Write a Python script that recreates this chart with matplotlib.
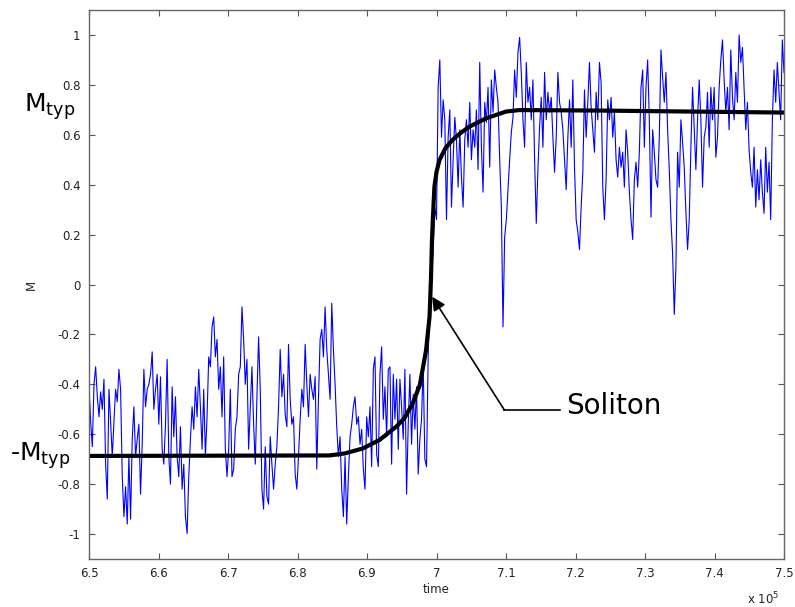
import numpy as np
import matplotlib
matplotlib.use("Agg")
import matplotlib.pyplot as plt

plt.rcParams['font.family'] = ['DejaVu Sans']
plt.rcParams['mathtext.fontset'] = 'dejavusans'

# ---------------- data ----------------
t_start, t_stop = 6.5, 7.5   # time in units of 1e5
magnetization = [
    # 6.50 - 6.70
    -0.41, -0.55, -0.65, -0.40, -0.33, -0.45, -0.53, -0.43, -0.50, -0.38,
    -0.72, -0.86, -0.42, -0.55, -0.69, -0.55, -0.42, -0.47, -0.34, -0.42,
    -0.77, -0.93, -0.81, -0.96, -0.69, -0.94, -0.62, -0.49, -0.69, -0.62,
    -0.56, -0.84, -0.64, -0.34, -0.49, -0.42, -0.40, -0.36, -0.27, -0.50,
    -0.42, -0.36, -0.56, -0.37, -0.66, -0.72, -0.56, -0.30, -0.69, -0.80,
    -0.41, -0.61, -0.45, -0.69, -0.77, -0.57, -0.82, -0.72, -0.93, -0.998,
    -0.77, -0.62, -0.49, -0.58, -0.41, -0.53, -0.34, -0.49, -0.66, -0.42,
    -0.69, -0.53, -0.29, -0.33, -0.17, -0.13, -0.29, -0.22, -0.42, -0.33,
    -0.53, -0.29, -0.66, -0.77,
    # 6.70 - 6.90
    -0.66, -0.42, -0.77, -0.74, -0.58, -0.53, -0.36, -0.33, -0.09, -0.22,
    -0.40, -0.30, -0.66, -0.49, -0.33, -0.56, -0.72, -0.45, -0.21, -0.42,
    -0.82, -0.90, -0.65, -0.85, -0.88, -0.61, -0.72, -0.82, -0.72, -0.65,
    -0.49, -0.26, -0.45, -0.36, -0.52, -0.57, -0.24, -0.46, -0.56, -0.53,
    -0.76, -0.82, -0.69, -0.54, -0.42, -0.49, -0.24, -0.40, -0.53, -0.36,
    -0.42, -0.46, -0.37, -0.74, -0.46, -0.22, -0.18, -0.29, -0.09, -0.26,
    -0.36, -0.46, -0.075, -0.26, -0.40, -0.57, -0.69, -0.61, -0.82, -0.93,
    -0.69, -0.96, -0.77, -0.61, -0.56, -0.49, -0.45, -0.56, -0.53, -0.64,
    -0.58, -0.74, -0.82, -0.53,
    # 6.90 - 7.10
    -0.61, -0.49, -0.73, -0.34, -0.29, -0.68, -0.73, -0.36, -0.25, -0.54,
    -0.41, -0.61, -0.34, -0.33, -0.72, -0.36, -0.54, -0.38, -0.66, -0.38,
    -0.49, -0.62, -0.34, -0.84, -0.56, -0.36, -0.64, -0.44, -0.58, -0.41,
    -0.76, -0.62, -0.54, -0.32, -0.70, -0.73, -0.28, -0.09, 0.03, 0.14,
    0.31, 0.26, 0.79, 0.90, 0.59, 0.74, 0.66, 0.26, 0.59, 0.70,
    0.31, 0.50, 0.67, 0.58, 0.39, 0.62, 0.43, 0.31, 0.58, 0.66,
    0.55, 0.73, 0.50, 0.62, 0.55, 0.70, 0.46, 0.89, 0.55, 0.37,
    0.73, 0.65, 0.79, 0.47, 0.82, 0.69, 0.86, 0.79, 0.73, 0.50,
    0.31, -0.17,
    # 7.10 - 7.30
    0.19, 0.26, 0.38, 0.50, 0.61, 0.67, 0.86, 0.75, 0.93, 0.99,
    0.85, 0.66, 0.55, 0.89, 0.73, 0.79, 0.66, 0.82, 0.50, 0.245,
    0.46, 0.63, 0.75, 0.55, 0.85, 0.66, 0.77, 0.69, 0.75, 0.59,
    0.45, 0.59, 0.85, 0.73, 0.69, 0.62, 0.50, 0.38, 0.59, 0.74,
    0.55, 0.82, 0.47, 0.26, 0.21, 0.14, 0.31, 0.45, 0.78, 0.59,
    0.73, 0.89, 0.71, 0.62, 0.53, 0.77, 0.66, 0.89, 0.81, 0.39,
    0.26, 0.42, 0.74, 0.66, 0.75, 0.59, 0.69, 0.50, 0.43, 0.55,
    0.47, 0.53, 0.39, 0.62, 0.53, 0.37, 0.26, 0.18, 0.42, 0.49,
    0.39, 0.53, 0.79, 0.86,
    # 7.30 - 7.50
    0.55, 0.79, 0.90, 0.66, 0.27, 0.62, 0.53, 0.42, 0.39, 0.59,
    0.94, 0.83, 0.73, 0.85, 0.62, 0.46, 0.26, 0.125, -0.12, 0.07,
    0.53, 0.39, 0.66, 0.57, 0.47, 0.29, 0.14, 0.26, 0.55, 0.79,
    0.63, 0.46, 0.66, 0.82, 0.66, 0.39, 0.59, 0.63, 0.77, 0.55,
    0.79, 0.66, 0.79, 0.51, 0.59, 0.79, 0.90, 0.98, 0.82, 0.69,
    0.79, 0.62, 0.94, 0.75, 0.66, 0.85, 0.73, 1.00, 0.89, 0.95,
    0.79, 0.62, 0.73, 0.54, 0.45, 0.39, 0.55, 0.31, 0.46, 0.34,
    0.50, 0.37, 0.285, 0.55, 0.37, 0.49, 0.26, 0.66, 0.86, 0.73,
    0.89, 0.77, 0.66, 0.98, 0.85,
]

soliton_t = [6.5, 6.846, 6.868, 6.894, 6.918, 6.942, 6.954, 6.966, 6.976,
             6.985, 6.990, 6.992, 6.9935, 6.9947, 6.997, 7.000, 7.0043,
             7.013, 7.023, 7.0345, 7.047, 7.0714, 7.100, 7.119, 7.234, 7.5]
soliton_m = [-0.687, -0.685, -0.677, -0.657, -0.623, -0.570, -0.535, -0.475,
             -0.403, -0.263, -0.129, 0.018, 0.178, 0.259, 0.392, 0.451,
             0.499, 0.547, 0.579, 0.607, 0.632, 0.666, 0.693, 0.699, 0.697,
             0.689]

x_ticks = [6.5, 6.6, 6.7, 6.8, 6.9, 7.0, 7.1, 7.2, 7.3, 7.4, 7.5]
x_tick_labels = ['6.5', '6.6', '6.7', '6.8', '6.9', '7', '7.1', '7.2', '7.3', '7.4', '7.5']
y_ticks = [-1, -0.8, -0.6, -0.4, -0.2, 0, 0.2, 0.4, 0.6, 0.8, 1]
y_tick_labels = ['-1', '-0.8', '-0.6', '-0.4', '-0.2', '0', '0.2', '0.4', '0.6', '0.8', '1']

arrow_tip = (6.9938, -0.049)
arrow_elbow = (7.0977, -0.503)
arrow_end = (7.178, -0.503)
label_pos = (7.186, -0.519)

# ---------------- figure ----------------
W, H = 795, 607
fig = plt.figure(figsize=(W / 100, H / 100), dpi=100)
ax = fig.add_axes([89 / W, 1 - 559 / H, (784 - 89) / W, (559 - 10) / H])

time = np.linspace(t_start, t_stop, len(magnetization))
ax.plot(time, magnetization, color='#0000ff', lw=0.8)
ax.plot(soliton_t, soliton_m, color='black', lw=3.0, solid_capstyle='butt')

ax.set_xlim(6.5, 7.5)
ax.set_ylim(-1.1, 1.1)
ax.set_xticks(x_ticks)
ax.set_xticklabels(x_tick_labels)
ax.set_yticks(y_ticks)
ax.set_yticklabels(y_tick_labels)
ax.tick_params(direction='in', length=4, width=0.8, color='#555555',
               top=True, right=True, labelsize=8.5, labelcolor='#222222', pad=6)
for s in ax.spines.values():
    s.set_color('#666666')
    s.set_linewidth(1.0)

ax.set_xlabel('time', fontsize=8.5, color='#222222', labelpad=2)
ax.set_ylabel('M', fontsize=8.5, color='#222222', labelpad=14)

# annotation
ax.plot([arrow_end[0], arrow_elbow[0]], [arrow_end[1], arrow_elbow[1]],
        color='black', lw=1.2)
ax.annotate('', xy=arrow_tip, xytext=arrow_elbow,
            arrowprops=dict(arrowstyle='-|>', color='black', lw=1.2,
                            mutation_scale=20, shrinkA=0, shrinkB=0))
ax.text(label_pos[0], label_pos[1], 'Soliton', fontsize=20,
        ha='left', va='baseline', color='black')

fig.text(24 / W, 1 - 112 / H, r'$\mathregular{M_{typ}}$', fontsize=18,
         ha='left', va='baseline')
fig.text(10 / W, 1 - 461 / H, r'-$\mathregular{M_{typ}}$', fontsize=18,
         ha='left', va='baseline')
fig.text(747 / W, 1 - 604 / H, r'x 10$^{\mathregular{5}}$', fontsize=8.5,
         ha='left', va='baseline', color='#222222')

fig.savefig('out.png', dpi=100)
